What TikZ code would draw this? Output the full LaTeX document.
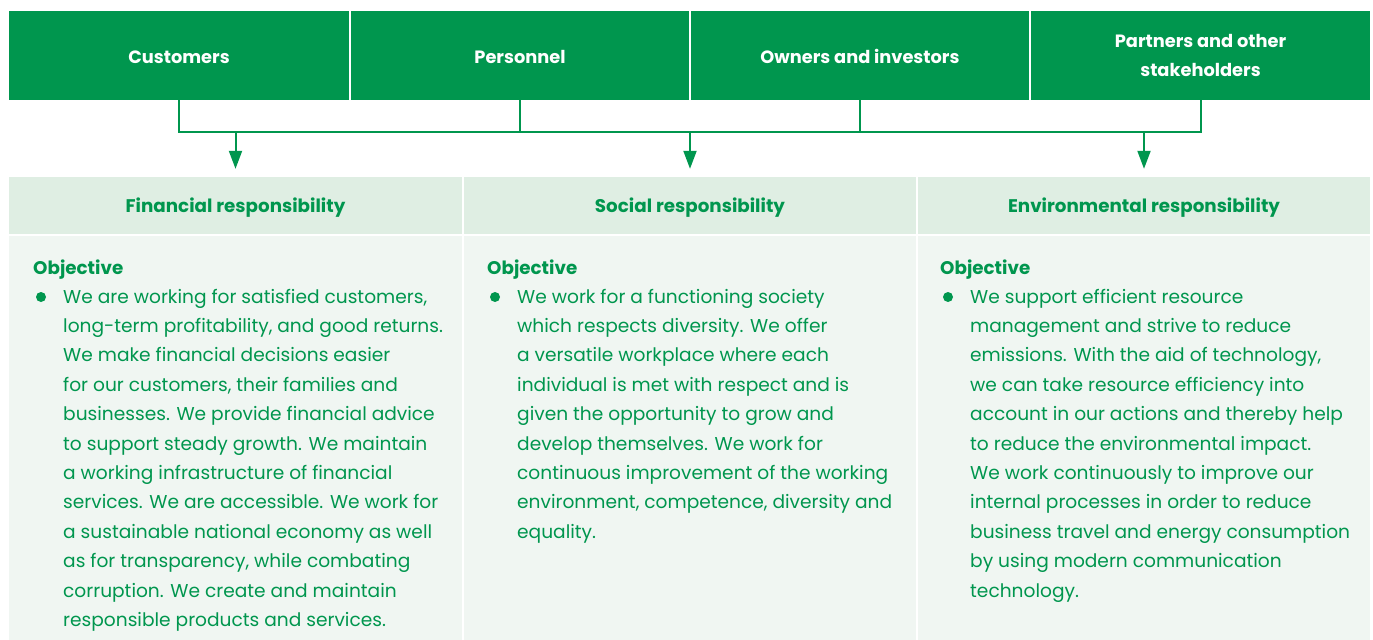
\documentclass[tikz,border=0pt]{standalone}
\usepackage{fontspec}
\setmainfont{Poppins}
\usetikzlibrary{arrows.meta}

\definecolor{brand}{RGB}{0,150,78}
\definecolor{headbg}{RGB}{223,238,227}
\definecolor{bodybg}{RGB}{240,246,242}

% stacked lines with a fixed line pitch; the box sits on its first baseline
\newcommand{\linestack}[1]{\vtop{\baselineskip=29.4bp\lineskiplimit=-100bp #1}}

\begin{document}
\begin{tikzpicture}[x=1bp,y=-1bp,
  stake/.style={fill=brand, text=white, inner sep=0, align=center,
    minimum height=89bp, font=\fontsize{17.8bp}{28.5bp}\selectfont\bfseries},
  oneline/.style={text height=17bp, text depth=0bp},
  pillar/.style={fill=headbg, text=brand, inner sep=0, minimum height=57bp,
    text height=14bp, text depth=0bp, font=\fontsize{18.3bp}{20bp}\selectfont\bfseries},
  panel/.style={fill=bodybg, inner sep=0, minimum height=404bp},
  conn/.style={draw=brand, line width=2bp},
  feed/.style={conn, -{Triangle[length=18bp,width=13bp]}, shorten >=8bp},
  objtitle/.style={anchor=base west, inner sep=0, text=brand,
    font=\fontsize{18.3bp}{20bp}\selectfont\bfseries},
  dot/.style={circle, fill=brand, inner sep=0, minimum size=10bp},
  bodytext/.style={anchor=base west, inner sep=0, text=brand,
    font=\fontsize{18.6bp}{29.4bp}\selectfont}]

\useasboundingbox (0,0) rectangle (1373,640);
\fill[white] (0,0) rectangle (1373,640);

% stakeholder groups
\node[stake, oneline, minimum width=340bp] (cust) at (179,55.5) {Customers};
\node[stake, oneline, minimum width=338bp] (pers) at (520,55.5) {Personnel};
\node[stake, oneline, minimum width=338bp] (own)  at (860,55.5) {Owners and investors};
\node[stake, minimum width=339bp] (part) at (1200.5,55.5) {Partners and other\\stakeholders};

% responsibility headers
\node[pillar, minimum width=453bp] (fin) at (235.5,205.5) {Financial responsibility};
\node[pillar, minimum width=452bp] (soc) at (690,205.5) {Social responsibility};
\node[pillar, minimum width=452bp] (env) at (1144,205.5) {Environmental responsibility};

% responsibility panels
\node[panel, minimum width=453bp] (finbody) at (235.5,438) {};
\node[panel, minimum width=452bp] (socbody) at (690,438) {};
\node[panel, minimum width=452bp] (envbody) at (1144,438) {};

% collecting bus and feeds
\coordinate (bus) at (0,132);
\draw[conn] (cust.south) -- (cust.south |- bus) -- (part.south |- bus) -- (part.south);
\draw[conn] (pers.south) -- (pers.south |- bus);
\draw[conn] (own.south) -- (own.south |- bus);
\draw[feed] (fin.north |- bus) -- (fin.north);
\draw[feed] (soc.north |- bus) -- (soc.north);
\draw[feed] (env.north |- bus) -- (env.north);

% financial objective
\node[objtitle] (finobj) at (33,274) {Objective};
\node[dot] (findot) at (41,297) {};
\node[bodytext] (fintext) at (63,303) {\linestack{%
\hbox{We are working for satisfied customers,}
\hbox{long-term profitability, and good returns.}
\hbox{We make financial decisions easier}
\hbox{for our customers, their families and}
\hbox{businesses. We provide financial advice}
\hbox{to support steady growth. We maintain}
\hbox{a working infrastructure of financial}
\hbox{services. We are accessible. We work for}
\hbox{a sustainable national economy as well}
\hbox{as for transparency, while combating}
\hbox{corruption. We create and maintain}
\hbox{responsible products and services.}}};

% social objective
\node[objtitle] (socobj) at (487,274) {Objective};
\node[dot] (socdot) at (495,297) {};
\node[bodytext] (soctext) at (517,303) {\linestack{%
\hbox{We work for a functioning society}
\hbox{which respects diversity. We offer}
\hbox{a versatile workplace where each}
\hbox{individual is met with respect and is}
\hbox{given the opportunity to grow and}
\hbox{develop themselves. We work for}
\hbox{continuous improvement of the working}
\hbox{environment, competence, diversity and}
\hbox{equality.}}};

% environmental objective
\node[objtitle] (envobj) at (940,274) {Objective};
\node[dot] (envdot) at (948,297) {};
\node[bodytext] (envtext) at (970,303) {\linestack{%
\hbox{We support efficient resource}
\hbox{management and strive to reduce}
\hbox{emissions. With the aid of technology,}
\hbox{we can take resource efficiency into}
\hbox{account in our actions and thereby help}
\hbox{to reduce the environmental impact.}
\hbox{We work continuously to improve our}
\hbox{internal processes in order to reduce}
\hbox{business travel and energy consumption}
\hbox{by using modern communication}
\hbox{technology.}}};

\end{tikzpicture}
\end{document}
